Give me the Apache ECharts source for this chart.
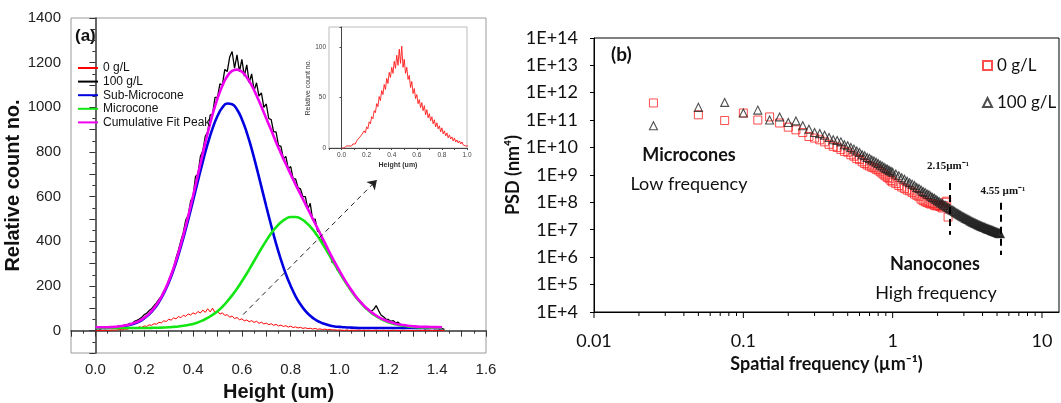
<!DOCTYPE html>
<html>
<head>
<meta charset="utf-8">
<script src="https://cdn.jsdelivr.net/npm/echarts@6/dist/echarts.min.js"></script>
<style>
  html, body { margin: 0; padding: 0; background: #fff; }
  #chart { width: 1061px; height: 403px; }
</style>
</head>
<body>
<div id="chart"></div>
<script>
// ---- panel (a): height histogram, raw curves (step 0.01 um) ----
const heightX = [
  0.00,0.01,0.02,0.03,0.04,0.05,0.06,0.07,0.08,0.09,
  0.10,0.11,0.12,0.13,0.14,0.15,0.16,0.17,0.18,0.19,
  0.20,0.21,0.22,0.23,0.24,0.25,0.26,0.27,0.28,0.29,
  0.30,0.31,0.32,0.33,0.34,0.35,0.36,0.37,0.38,0.39,
  0.40,0.41,0.42,0.43,0.44,0.45,0.46,0.47,0.48,0.49,
  0.50,0.51,0.52,0.53,0.54,0.55,0.56,0.57,0.58,0.59,
  0.60,0.61,0.62,0.63,0.64,0.65,0.66,0.67,0.68,0.69,
  0.70,0.71,0.72,0.73,0.74,0.75,0.76,0.77,0.78,0.79,
  0.80,0.81,0.82,0.83,0.84,0.85,0.86,0.87,0.88,0.89,
  0.90,0.91,0.92,0.93,0.94,0.95,0.96,0.97,0.98,0.99,
  1.00,1.01,1.02,1.03,1.04,1.05,1.06,1.07,1.08,1.09,
  1.10,1.11,1.12,1.13,1.14,1.15,1.16,1.17,1.18,1.19,
  1.20,1.21,1.22,1.23,1.24,1.25,1.26,1.27,1.28,1.29,
  1.30,1.31,1.32,1.33,1.34,1.35,1.36,1.37,1.38,1.39,
  1.40,1.41,1.42,1.43
];
// 0 g/L
const count0 = [
  0,1,0,1,2,1,2,3,2,4,
  5,4,7,6,10,9,13,12,17,15,
  21,19,26,24,31,29,37,35,44,41,
  51,47,57,53,63,58,69,64,75,70,
  80,74,86,79,92,82,98,84,101,80,
  88,74,80,68,72,60,66,54,59,49,
  53,44,48,40,45,37,42,33,38,30,
  34,27,31,24,28,21,25,19,22,16,
  20,14,17,12,15,10,13,9,11,7,
  10,6,8,5,7,4,6,3,4,2,
  3,2,1,3,1,2,2,1,3,1,
  2,1,2,0,1,2,1,1,2,0,
  1,1,2,1,0,1,2,1,1,0,
  1,1,2,0,1,1,0,1,1,0,
  1,0,1,0
];
// 100 g/L
const count100 = [
  8,10,7,12,9,14,11,16,13,19,
  22,18,27,24,33,30,42,46,52,60,
  72,78,90,98,112,124,140,155,178,190,
  225,252,282,325,360,402,440,495,515,580,
  600,690,700,780,805,870,890,965,970,1045,
  1045,1105,1100,1170,1160,1225,1250,1175,1235,1160,
  1215,1140,1190,1110,1150,1075,1110,1050,1065,1000,
  1015,950,945,890,890,830,825,770,780,725,
  735,680,680,640,635,600,600,545,570,495,
  500,445,440,400,395,350,350,305,310,272,
  268,245,225,210,190,180,160,150,132,125,
  110,102,92,88,95,112,90,70,62,52,
  50,42,45,35,38,28,22,18,15,12,
  14,10,12,9,11,8,10,9,13,8,
  10,7,9,6
];

// fitted peaks (step 0.02 um)
const fitX = [
  0.00,0.02,0.04,0.06,0.08,0.10,0.12,0.14,0.16,0.18,
  0.20,0.22,0.24,0.26,0.28,0.30,0.32,0.34,0.36,0.38,
  0.40,0.42,0.44,0.46,0.48,0.50,0.52,0.54,0.56,0.58,
  0.60,0.62,0.64,0.66,0.68,0.70,0.72,0.74,0.76,0.78,
  0.80,0.82,0.84,0.86,0.88,0.90,0.92,0.94,0.96,0.98,
  1.00,1.02,1.04,1.06,1.08,1.10,1.12,1.14,1.16,1.18,
  1.20,1.22,1.24,1.26,1.28,1.30,1.32,1.34,1.36,1.38,
  1.40,1.42
];
const subMicro = [
  12,12,12,13,14,17,20,25,32,41,
  55,73,97,128,167,215,272,339,414,496,
  582,671,757,837,906,961,999,1017,1014,990,
  947,887,814,731,644,556,471,390,318,254,
  200,154,118,89,67,50,38,30,23,19,
  17,15,14,13,12,12,12,12,12,12,
  12,12,12,12,12,12,12,12,12,12,
  12,12
];
const micro = [
  12,12,12,12,12,12,12,12,12,12,
  12,12,13,13,14,15,17,19,22,25,
  30,37,46,57,71,87,107,131,158,188,
  221,256,293,331,368,403,436,463,485,501,
  509,509,502,487,466,439,407,372,335,297,
  260,224,191,160,133,109,89,72,58,47,
  38,31,26,22,19,17,15,14,14,13,
  13,12
];
const cumFit = [
  15,15,15,16,17,20,23,28,35,44,
  58,76,101,132,172,221,280,349,427,512,
  603,699,794,885,968,1039,1097,1139,1163,1169,
  1159,1134,1098,1053,1003,950,898,844,794,746,
  700,654,611,567,524,480,436,393,349,307,
  268,230,196,164,136,112,92,75,61,50,
  41,34,29,25,22,20,18,17,17,16,
  16,15
];

// ---- panel (b): PSD ----
const psdFreq0 = [
  0.025,0.05,0.075,0.1,0.125,0.15,0.175,0.2,0.225,0.25,
  0.275,0.3,0.325,0.35,0.375,0.4,0.425,0.45,0.475,0.5,
  0.525,0.55,0.575,0.6,0.625,0.65,0.675,0.7,0.725,0.75,
  0.775,0.8,0.825,0.85,0.875,0.9,0.925,0.95,0.975,1.0,
  1.05,1.1,1.15,1.2,1.25,1.3,1.35,1.4,1.45,1.5,
  1.55,1.6,1.65,1.7,1.75,1.8,1.85,1.9,1.95,2.0,
  2.05,2.1,2.15,2.2,2.25,2.3,2.35
];
const psd0 = [
  4.2e11,1.55e11,9.6e10,1.8e11,1.0e11,1.3e11,7.8e10,5.5e10,4.4e10,3.5e10,
  2.5e10,2.2e10,1.9e10,1.6e10,1.3e10,1.1e10,1.0e10,8.5e9,7.2e9,6.7e9,
  5.4e9,4.8e9,3.9e9,3.6e9,3.0e9,2.6e9,2.3e9,2.1e9,1.9e9,1.8e9,
  1.6e9,1.5e9,1.3e9,1.15e9,1.0e9,9.0e8,8.0e8,7.2e8,6.2e8,5.5e8,
  4.8e8,4.1e8,3.6e8,3.2e8,2.8e8,2.6e8,2.3e8,2.0e8,1.8e8,1.6e8,
  1.3e8,1.15e8,1.05e8,9.8e7,9.2e7,8.6e7,8.9e7,7.8e7,7.4e7,7.8e7,
  7.2e7,6.8e7,6.2e7,7.5e7,1.0e8,1.1e8,2.9e7
];
const psdFreq100 = [
  0.025,0.05,0.075,0.1,0.125,0.15,0.175,0.2,0.225,0.25,
  0.275,0.3,0.325,0.35,0.375,0.4,0.425,0.45,0.475,0.5,
  0.525,0.55,0.575,0.6,0.625,0.65,0.675,0.7,0.725,0.75,
  0.775,0.8,0.825,0.85,0.875,0.9,0.925,0.95,0.975,1.0,
  1.05,1.1,1.15,1.2,1.25,1.3,1.35,1.4,1.45,1.5,
  1.55,1.6,1.65,1.7,1.75,1.8,1.85,1.9,1.95,2.0,
  2.05,2.1,2.15,2.2,2.25,2.3,2.35,2.4,2.45,2.5,
  2.55,2.6,2.65,2.7,2.75,2.8,2.85,2.9,2.95,3.0,
  3.05,3.1,3.15,3.2,3.25,3.3,3.35,3.4,3.45,3.5,
  3.55,3.6,3.65,3.7,3.75,3.8,3.85,3.9,3.95,4.0,
  4.05,4.1,4.15,4.2,4.25,4.3,4.35,4.4,4.45,4.5,
  4.55,4.6,4.65,4.7,4.75,4.8,4.85,4.9,4.95,5.0,
  5.05,5.1,5.15,5.2,5.25
];
const psd100 = [
  6.2e10,2.9e11,4.4e11,1.8e11,2.3e11,1.0e11,1.3e11,8.1e10,9.3e10,6.2e10,
  4.6e10,3.5e10,3.2e10,2.8e10,2.3e10,1.9e10,1.8e10,1.6e10,1.26e10,1.15e10,
  1.0e10,8.7e9,7.4e9,6.6e9,5.4e9,5.0e9,4.3e9,4.0e9,3.5e9,3.2e9,
  2.9e9,2.6e9,2.3e9,2.1e9,1.9e9,1.7e9,1.6e9,1.45e9,1.35e9,1.26e9,
  1.07e9,9.3e8,7.9e8,6.9e8,5.9e8,5.2e8,4.6e8,4.1e8,3.5e8,3.2e8,
  2.8e8,2.5e8,2.3e8,2.0e8,1.9e8,1.66e8,1.5e8,1.4e8,1.26e8,1.15e8,
  1.05e8,9.5e7,8.9e7,8.1e7,7.6e7,6.9e7,6.5e7,6.0e7,5.6e7,5.2e7,
  4.9e7,4.6e7,4.3e7,4.0e7,3.8e7,3.5e7,3.4e7,3.2e7,3.0e7,2.9e7,
  2.7e7,2.6e7,2.45e7,2.35e7,2.25e7,2.15e7,2.05e7,1.95e7,1.9e7,1.8e7,
  1.75e7,1.7e7,1.62e7,1.58e7,1.5e7,1.48e7,1.41e7,1.38e7,1.35e7,1.29e7,
  1.26e7,1.23e7,1.2e7,1.15e7,1.12e7,1.1e7,1.07e7,1.05e7,1.02e7,1.0e7,
  9.8e6,9.5e6,9.3e6,9.1e6,8.9e6,8.7e6,8.5e6,8.3e6,8.1e6,7.9e6,
  7.8e6,7.6e6,7.5e6,7.4e6,7.2e6
];
const psdNames = { psd0: '0 g/L', psd100: '100 g/L' };

// log-axis tick positions for panel (b)
const logMajor = [0.01, 0.1, 1, 10];
const logMinor = [0.02,0.03,0.04,0.05,0.06,0.07,0.08,0.09,
  0.2,0.3,0.4,0.5,0.6,0.7,0.8,0.9,
  2,3,4,5,6,7,8,9];

const pairs = (xs, ys) => xs.map((x, i) => [x, ys[i]]);
const sans = 'Liberation Sans, Arial, sans-serif';
const cal = 'Lato, Open Sans, sans-serif';

function tickSeries(values, len) {
  return {
    type: 'custom', xAxisIndex: 2, yAxisIndex: 2, silent: true, clip: false, z: 5,
    data: values.map(v => [v, 1e4]),
    renderItem: (params, api) => {
      const p = api.coord([api.value(0), api.value(1)]);
      return { type: 'line', shape: { x1: p[0], y1: p[1], x2: p[0], y2: p[1] + len },
        style: { stroke: '#000', lineWidth: 1 } };
    }
  };
}

const chart = echarts.init(document.getElementById('chart'));
chart.setOption({
  animation: false,
  backgroundColor: '#fff',
  grid: [
    { left: 71, top: 18, width: 415, height: 335, show: true, borderColor: '#9a9a9a', borderWidth: 1, outerBoundsMode: 'none' },
    { left: 329, top: 27, width: 138, height: 121, show: true, borderColor: '#bbb', borderWidth: 1, outerBoundsMode: 'none' },
    { left: 594, top: 38, width: 465, height: 274, show: true, borderColor: '#000', borderWidth: 1, outerBoundsMode: 'none' }
  ],
  legend: [
    {
      orient: 'vertical', left: 73, top: 57, itemWidth: 20, itemHeight: 12, itemGap: 1.6,
      icon: 'path://M0,5 L20,5 L20,7 L0,7 Z',
      selectedMode: false,
      textStyle: { fontFamily: sans, fontSize: 12, color: '#111', lineHeight: 12 },
      data: ['0 g/L', '100 g/L', 'Sub-Microcone', 'Microcone', 'Cumulative Fit Peak']
    },
    {
      orient: 'vertical', left: 977, top: 52, itemWidth: 9, itemHeight: 9, itemGap: 20,
      selectedMode: false,
      textStyle: { fontFamily: cal, fontSize: 17, color: '#111' },
      formatter: name => psdNames[name],
      data: ['psd0', 'psd100']
    }
  ],
  xAxis: [
    {
      gridIndex: 0, type: 'value', min: -0.1, max: 1.6, interval: 0.1,
      name: 'Height (um)', nameLocation: 'middle', nameGap: 29,
      nameTextStyle: { fontFamily: sans, fontSize: 20, fontWeight: 'bold', color: '#111' },
      axisLine: { lineStyle: { color: '#333', width: 1.5 } },
      axisTick: { length: 6, lineStyle: { color: '#333' } },
      minorTick: { show: true, splitNumber: 2, length: 3, lineStyle: { color: '#333' } },
      splitLine: { show: false },
      axisLabel: {
        margin: 9, fontFamily: sans, fontSize: 15, color: '#222',
        formatter: v => { const t = Math.round(v * 10); return (t < 0 || t % 2) ? '' : (t / 10).toFixed(1); }
      }
    },
    {
      gridIndex: 1, type: 'value', min: -0.1, max: 1.0, interval: 0.1,
      name: 'Height (um)', nameLocation: 'middle', nameGap: 14,
      nameTextStyle: { fontFamily: sans, fontSize: 7, fontWeight: 'bold', color: '#333' },
      axisLine: { lineStyle: { color: '#444', width: 1 } },
      axisTick: { length: 2, lineStyle: { color: '#444' } },
      splitLine: { show: false },
      axisLabel: {
        margin: 4, fontFamily: sans, fontSize: 6.5, color: '#444',
        formatter: v => { const t = Math.round(v * 10); return (t < 0 || t % 2) ? '' : (t / 10).toFixed(1); }
      }
    },
    {
      gridIndex: 2, type: 'log', logBase: 10, min: 0.01, max: 13, splitNumber: 5,
      name: 'Spatial frequency (µm⁻¹)', nameLocation: 'middle', nameGap: 38,
      nameTextStyle: { fontFamily: cal, fontSize: 18, fontWeight: 'bold', color: '#111' },
      axisLine: { lineStyle: { color: '#000', width: 1 } },
      axisTick: { show: false },
      splitLine: { show: false },
      axisLabel: {
        margin: 20, fontFamily: cal, fontSize: 18, color: '#111',
        formatter: v => {
          const l = Math.log10(v), e = Math.round(l);
          if (Math.abs(l - e) > 1e-6) return '';
          return { '-2': '0.01', '-1': '0.1', '0': '1', '1': '10' }[e] || '';
        }
      }
    }
  ],
  yAxis: [
    {
      gridIndex: 0, type: 'value', min: -100, max: 1400, interval: 100,
      name: 'Relative count no.', nameLocation: 'middle', nameGap: 42,
      nameTextStyle: { fontFamily: sans, fontSize: 20, fontWeight: 'bold', color: '#111' },
      axisLine: { lineStyle: { color: '#333', width: 1.5 } },
      axisTick: { length: 6, lineStyle: { color: '#333' } },
      minorTick: { show: true, splitNumber: 2, length: 3, lineStyle: { color: '#333' } },
      splitLine: { show: false },
      axisLabel: {
        margin: 10, fontFamily: sans, fontSize: 15, color: '#222',
        formatter: v => (v >= 0 && Math.round(v) % 200 === 0) ? String(Math.round(v)) : ''
      }
    },
    {
      gridIndex: 1, type: 'value', min: 0, max: 120, interval: 50,
      name: 'Relative count no.', nameLocation: 'middle', nameGap: 15,
      nameTextStyle: { fontFamily: sans, fontSize: 7, color: '#333' },
      axisLine: { lineStyle: { color: '#444', width: 1 } },
      axisTick: { length: 2, lineStyle: { color: '#444' } },
      splitLine: { show: false },
      axisLabel: {
        margin: 3, fontFamily: sans, fontSize: 6.5, color: '#444',
        formatter: v => (v <= 100 ? String(v) : '')
      }
    },
    {
      gridIndex: 2, type: 'log', logBase: 10, min: 1e4, max: 9.8e13, splitNumber: 10,
      name: 'PSD (nm⁴)', nameLocation: 'middle', nameGap: 67,
      nameTextStyle: { fontFamily: cal, fontSize: 18, fontWeight: 'bold', color: '#111' },
      axisLine: { lineStyle: { color: '#000', width: 1 } },
      axisTick: { length: 4, lineStyle: { color: '#000' } },
      splitLine: { show: false },
      axisLabel: {
        margin: 16, fontFamily: cal, fontSize: 18, color: '#111',
        formatter: v => '1E+' + Math.round(Math.log10(v))
      }
    }
  ],
  series: [
    {
      name: '100 g/L', type: 'line', xAxisIndex: 0, yAxisIndex: 0, symbol: 'none',
      data: pairs(heightX, count100),
      lineStyle: { color: '#000', width: 1.3 }, itemStyle: { color: '#000' }
    },
    {
      name: '0 g/L', type: 'line', xAxisIndex: 0, yAxisIndex: 0, symbol: 'none',
      data: pairs(heightX, count0),
      lineStyle: { color: '#ff0000', width: 1 }, itemStyle: { color: '#ff0000' },
      markLine: {
        silent: true, symbol: ['none', 'arrow'], symbolSize: 9,
        label: { show: false },
        lineStyle: { color: '#222', type: [5, 4], width: 1 },
        data: [[{ coord: [0.605, 72] }, { coord: [1.153, 675] }]]
      }
    },
    {
      name: 'Sub-Microcone', type: 'line', xAxisIndex: 0, yAxisIndex: 0, symbol: 'none', smooth: true,
      data: pairs(fitX, subMicro),
      lineStyle: { color: '#0000e0', width: 2.6 }, itemStyle: { color: '#0000e0' }
    },
    {
      name: 'Microcone', type: 'line', xAxisIndex: 0, yAxisIndex: 0, symbol: 'none', smooth: true,
      data: pairs(fitX, micro),
      lineStyle: { color: '#14e614', width: 2.6 }, itemStyle: { color: '#14e614' }
    },
    {
      name: 'Cumulative Fit Peak', type: 'line', xAxisIndex: 0, yAxisIndex: 0, symbol: 'none', smooth: true,
      data: pairs(fitX, cumFit),
      lineStyle: { color: '#f000f0', width: 2.6 }, itemStyle: { color: '#f000f0' }
    },
    {
      name: 'inset', type: 'line', xAxisIndex: 1, yAxisIndex: 1, symbol: 'none',
      data: pairs(heightX, count0),
      lineStyle: { color: '#ff1a1a', width: 0.9 }
    },
    {
      name: 'psd0', type: 'scatter', xAxisIndex: 2, yAxisIndex: 2, symbol: 'rect', symbolSize: 8,
      data: pairs(psdFreq0, psd0),
      itemStyle: { color: 'rgba(255,255,255,0)', borderColor: '#ff2020', borderWidth: 1 }
    },
    {
      name: 'psd100', type: 'scatter', xAxisIndex: 2, yAxisIndex: 2, symbol: 'triangle', symbolSize: 8,
      data: pairs(psdFreq100, psd100),
      itemStyle: { color: 'rgba(255,255,255,0)', borderColor: '#222', borderWidth: 1.1 },
      markLine: {
        silent: true, symbol: ['none', 'none'],
        label: { show: false },
        lineStyle: { color: '#000', type: [7, 5], width: 2 },
        data: [
          [{ coord: [2.4, 5.1e8] }, { coord: [2.4, 6.5e6] }],
          [{ coord: [5.3, 9.6e7] }, { coord: [5.3, 1.2e6] }]
        ]
      }
    },
    tickSeries(logMajor, 6),
    tickSeries(logMinor, 4)
  ],
  graphic: [
    { type: 'text', left: 75, top: 28, style: { text: '(a)', font: 'bold 17px ' + sans, fill: '#111' } },
    { type: 'text', left: 611, top: 45, style: { text: '(b)', font: 'bold 19px ' + cal, fill: '#111' } },
    { type: 'text', x: 689, y: 155, style: { text: 'Microcones', font: 'bold 18px ' + cal, fill: '#111', align: 'center', verticalAlign: 'middle' } },
    { type: 'text', x: 689, y: 184, style: { text: 'Low frequency', font: '18px ' + cal, fill: '#111', align: 'center', verticalAlign: 'middle' } },
    { type: 'text', x: 935, y: 264, style: { text: 'Nanocones', font: 'bold 18px ' + cal, fill: '#111', align: 'center', verticalAlign: 'middle' } },
    { type: 'text', x: 936, y: 293, style: { text: 'High frequency', font: '18px ' + cal, fill: '#111', align: 'center', verticalAlign: 'middle' } },
    { type: 'text', x: 948, y: 166, style: { text: '2.15µm⁻¹', font: 'bold 11px Liberation Serif, serif', fill: '#111', align: 'center', verticalAlign: 'middle' } },
    { type: 'text', x: 1003, y: 191, style: { text: '4.55 µm⁻¹', font: 'bold 11px Liberation Serif, serif', fill: '#111', align: 'center', verticalAlign: 'middle' } }
  ]
});
</script>
</body>
</html>
